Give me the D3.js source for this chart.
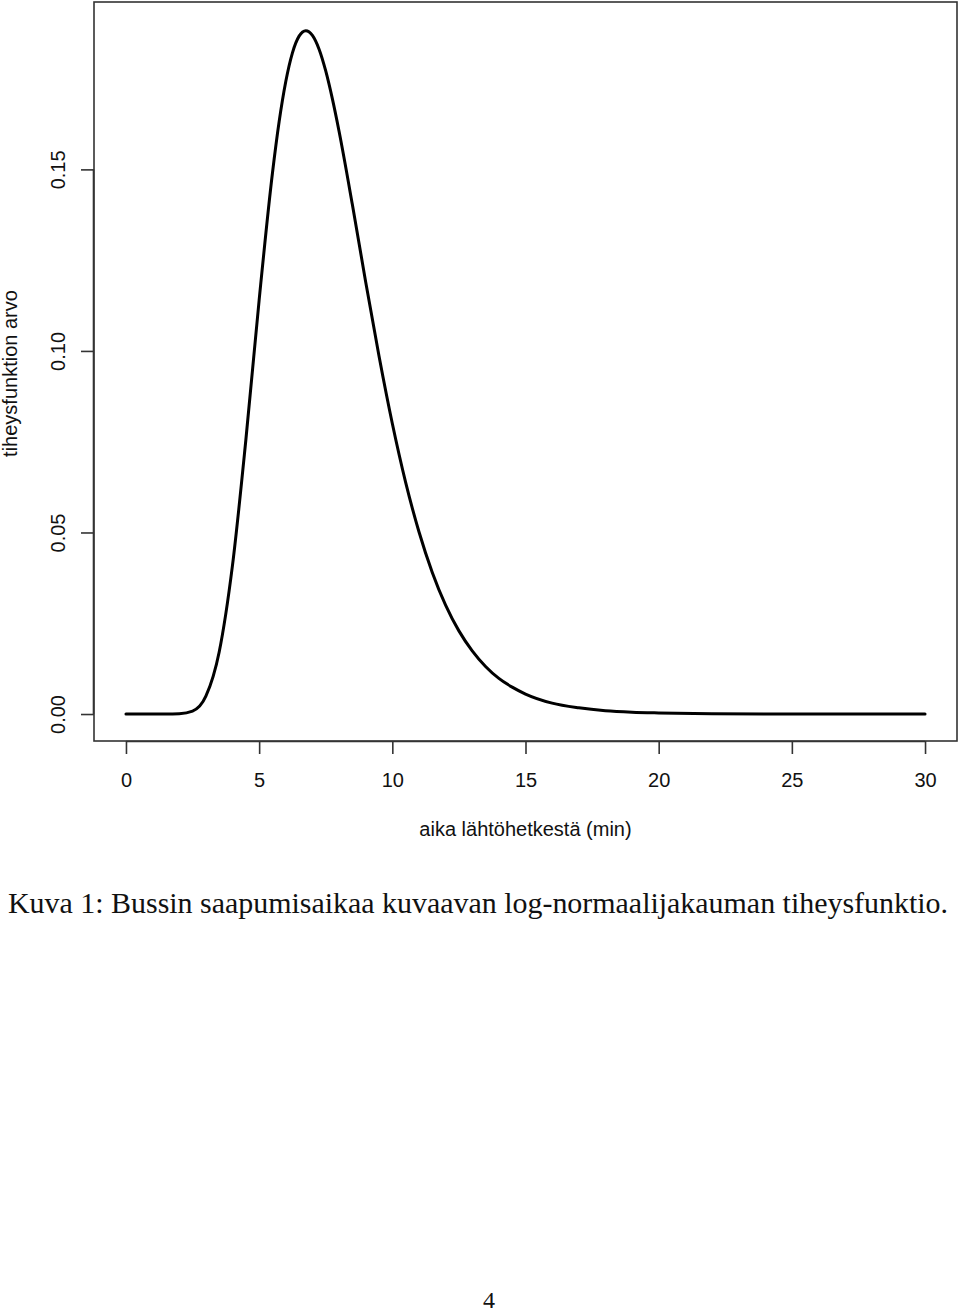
<!DOCTYPE html>
<html>
<head>
<meta charset="utf-8">
<script src="https://cdn.jsdelivr.net/npm/d3@7"></script>
<style>
  html, body { margin: 0; padding: 0; background: #fff; }
  svg { display: block; }
</style>
</head>
<body>
<svg id="chart" width="960" height="1315"></svg>
<script>
// Values (density curve, minutes vs density)
const xValues = [0, 0.5, 1, 1.5, 2, 2.5, 3, 3.5, 4, 4.5, 5, 5.5, 5.75, 6, 6.25, 6.5, 6.75, 7, 7.25, 7.5, 7.75, 8, 8.5, 9, 9.5, 10,
                 10.5, 11, 11.5, 12, 12.5, 13, 13.5, 14, 14.5, 15, 16, 17, 18, 19, 20, 22, 24, 26, 28, 30];
const densityValues = [0, 0, 0, 0, 0.0001, 0.0008, 0.0049, 0.0171, 0.0410, 0.0754, 0.1140, 0.1490, 0.1631,
                 0.1742, 0.1821, 0.1867, 0.1882, 0.1869, 0.1831, 0.1771, 0.1694, 0.1605, 0.1403, 0.1190, 0.0986, 0.0800,
                 0.0638, 0.0502, 0.0390, 0.0300, 0.0229, 0.0174, 0.0131, 0.0098, 0.0074, 0.0055,
                 0.0030, 0.0017, 0.0009, 0.0005, 0.0003, 0.0001, 0, 0, 0, 0];
const xTicks = [0, 5, 10, 15, 20, 25, 30];
const yTicks = [0.00, 0.05, 0.10, 0.15];
const xLabel = "aika lähtöhetkestä (min)";
const yLabel = "tiheysfunktion arvo";
const caption = "Kuva 1: Bussin saapumisaikaa kuvaavan log-normaalijakauman tiheysfunktio.";
const pageNumber = "4";

const svg = d3.select("#chart");
const box = { left: 94, right: 957, top: 2, bottom: 741 };

const x = d3.scaleLinear().domain([-1.2, 31.2]).range([box.left, box.right]);
const y = d3.scaleLinear().domain([-0.00743, 0.1961]).range([box.bottom, box.top]);

const axisColor = "#333";
const font = "'Liberation Sans', Arial, Helvetica, sans-serif";

// plot box
svg.append("rect")
  .attr("x", box.left).attr("y", box.top)
  .attr("width", box.right - box.left).attr("height", box.bottom - box.top)
  .attr("fill", "none").attr("stroke", axisColor).attr("stroke-width", 1.6);

// x axis
const xAxis = d3.axisBottom(x).tickValues(xTicks).tickSize(13).tickPadding(18).tickFormat(d3.format("d"));
const gx = svg.append("g").attr("transform", `translate(0,${box.bottom})`).call(xAxis);
gx.select(".domain").attr("d", `M${x(0)},0.5H${x(30)}`).attr("stroke", axisColor).attr("stroke-width", 1.6);
gx.selectAll(".tick line").attr("stroke", axisColor).attr("stroke-width", 1.6);
gx.selectAll(".tick text").attr("font-family", font).attr("font-size", 20).attr("fill", "#111")
  .attr("dy", null).attr("y", 46);

// y axis
const yAxis = d3.axisLeft(y).tickValues(yTicks).tickSize(13).tickFormat(d3.format(".2f"));
const gy = svg.append("g").attr("transform", `translate(${box.left},0)`).call(yAxis);
gy.select(".domain").attr("d", `M-0.5,${y(0)}V${y(0.15)}`).attr("stroke", axisColor).attr("stroke-width", 1.6);
gy.selectAll(".tick line").attr("stroke", axisColor).attr("stroke-width", 1.6);
gy.selectAll(".tick text")
  .attr("font-family", font).attr("font-size", 20).attr("fill", "#111")
  .attr("x", null).attr("dy", null)
  .attr("text-anchor", "middle")
  .attr("transform", "translate(-29,0) rotate(-90)");

// curve
const data = xValues.map((v, i) => ({ x: v, y: densityValues[i] }));
const line = d3.line().x(d => x(d.x)).y(d => y(d.y)).curve(d3.curveMonotoneX);
svg.append("path").datum(data)
  .attr("d", line).attr("fill", "none").attr("stroke", "#000")
  .attr("stroke-width", 3).attr("stroke-linejoin", "round").attr("stroke-linecap", "round");

// axis labels
svg.append("text").attr("x", (x(0) + x(30)) / 2).attr("y", 836)
  .attr("text-anchor", "middle").attr("font-family", font).attr("font-size", 20).attr("fill", "#111")
  .text(xLabel);
svg.append("text")
  .attr("transform", `translate(17,${(box.top + box.bottom) / 2 + 2}) rotate(-90)`)
  .attr("text-anchor", "middle").attr("font-family", font).attr("font-size", 20).attr("fill", "#111")
  .text(yLabel);

// caption
const serif = "'Liberation Serif', 'DejaVu Serif', serif";
svg.append("text").attr("x", 8).attr("y", 913)
  .attr("font-family", serif).attr("font-size", 30).attr("fill", "#111")
  .attr("textLength", 940).attr("lengthAdjust", "spacingAndGlyphs")
  .text(caption);

// page number
svg.append("text").attr("x", 489).attr("y", 1308).attr("text-anchor", "middle")
  .attr("font-family", serif).attr("font-size", 24).attr("fill", "#111")
  .text(pageNumber);
</script>
</body>
</html>
